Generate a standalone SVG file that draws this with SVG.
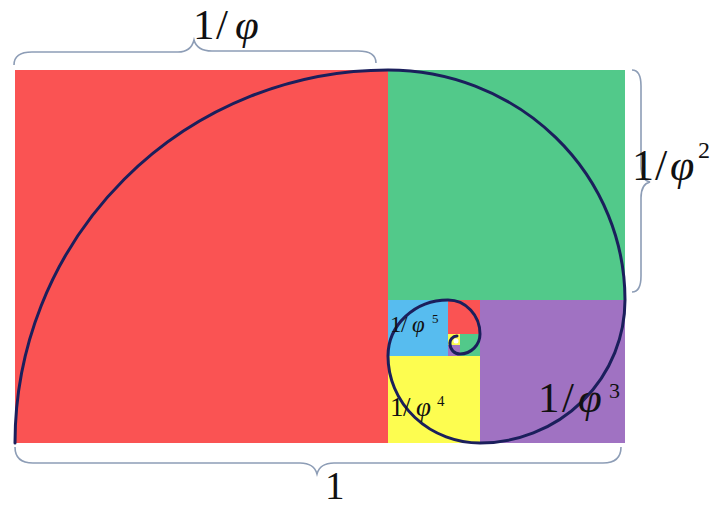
<svg xmlns="http://www.w3.org/2000/svg" width="711" height="507" viewBox="0 0 711 507">
<style>
.t{font-family:"Liberation Serif","Times New Roman",serif;fill:#111}
.i{font-style:italic}
.brace{fill:none;stroke:#8d9db6;stroke-width:1.6}
.sp{fill:none;stroke:#1b1f5c;stroke-width:3;stroke-linecap:round}
</style>
<rect width="711" height="507" fill="#fff"/>
<g id="squares">
<rect id="red" x="15" y="70" width="373" height="373" fill="#fa5353"/>
<rect id="green" x="388" y="70" width="237" height="230" fill="#52c98a"/>
<rect id="purple" x="480" y="300" width="145" height="143" fill="#a072c2"/>
<rect id="yellow" x="388" y="356" width="92" height="87" fill="#fdfd50"/>
<rect id="blue" x="388" y="300" width="60" height="56" fill="#57bcef"/>
<rect id="red2" x="448" y="300" width="32" height="34" fill="#fa5353"/>
<rect id="green2" x="460" y="334" width="20" height="22" fill="#52c98a"/>
<rect id="purple2" x="448" y="345" width="12" height="11" fill="#a072c2"/>
<rect id="yellow2" x="448" y="334" width="12" height="11" fill="#fdfd50"/>
</g>
<g id="connectors">
<path class="sp" d="M15,443 A373,373 0 0 1 388,70 A237,230 0 0 1 625,300 A145,143 0 0 1 480,443 A92,87 0 0 1 388,356 A60,56 0 0 1 448,300 A32,34 0 0 1 480,334 A20,20 0 0 1 460,354 A10,10 0 0 1 450,344 A7,7 0 0 1 457,336"/>
<circle cx="456" cy="341" r="2.5" fill="#fff"/>
<path class="brace" d="M14,65 Q14,52 32,52 L178,52 Q191,52 194,40 Q197,51 212,51 L358,51 Q376,51 376,63"/>
<path class="brace" d="M632,70 Q641,70 641,86 L641,166 Q641,180 650,182 Q641,184 641,198 L641,276 Q641,292 632,292"/>
<path class="brace" d="M15,447 Q15,463 33,463 L300,463 Q314,463 317,474 Q320,463 334,463 L603,463 Q621,463 621,447"/>
</g>
<g id="labels">
<text class="t" font-size="43" y="39"><tspan x="193">1</tspan><tspan x="216">/</tspan><tspan x="235" class="i">φ</tspan></text>
<text class="t" font-size="44" y="180"><tspan x="632">1</tspan><tspan x="655">/</tspan><tspan x="670" class="i">φ</tspan><tspan x="698" y="158" font-size="24">2</tspan></text>
<text class="t" font-size="43" y="412"><tspan x="538">1</tspan><tspan x="562">/</tspan><tspan x="578" class="i">φ</tspan><tspan x="609" y="398" font-size="22">3</tspan></text>
<text class="t" font-size="27" y="416"><tspan x="390">1</tspan><tspan x="403">/</tspan><tspan x="416" class="i">φ</tspan><tspan x="437" y="406" font-size="15">4</tspan></text>
<text class="t" font-size="23" y="332"><tspan x="390">1</tspan><tspan x="401">/</tspan><tspan x="412" class="i">φ</tspan><tspan x="432" y="323" font-size="13">5</tspan></text>
<text class="t" font-size="39" y="499" x="325">1</text>
</g>
</svg>
